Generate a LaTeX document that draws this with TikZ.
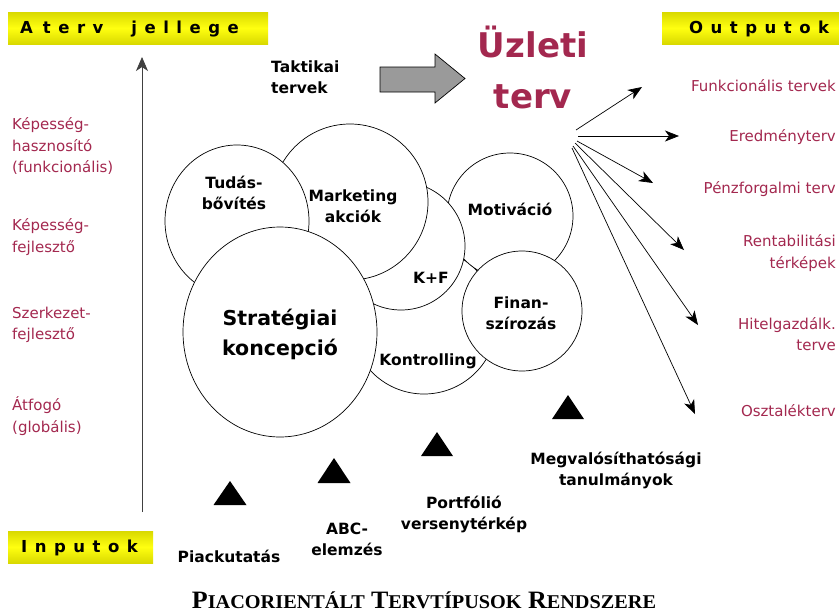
\documentclass[tikz,border=0pt]{standalone}
\usepackage{fontspec}
\usepackage{graphicx}
\setmainfont{DejaVu Sans}
\newfontfamily\titlefont{Liberation Serif}
\usetikzlibrary{arrows.meta,shapes.geometric}

\definecolor{plum}{HTML}{A3284F}
\definecolor{bannerlo}{HTML}{D9D900}
\definecolor{bannerhi}{HTML}{FFFF10}
\definecolor{blockgray}{HTML}{9A9A9A}
\definecolor{axisgray}{HTML}{404040}

% letter-spaced banner words
\newcommand\lsp{\hspace{7.5pt}}
\newcommand\wsp{\hspace{28pt}}
% hand-made small capitals for the caption
\newcommand\capword[2]{{\fontsize{25}{25}\selectfont #1}{\fontsize{19.5}{19.5}\selectfont #2}}

\tikzset{
  banner/.style={rectangle, inner sep=0pt, draw=none,
    top color=bannerlo, bottom color=bannerlo, middle color=bannerhi},
  bannertext/.style={font=\bfseries\fontsize{16.5}{16.5}\selectfont, inner sep=0pt},
  bubble/.style={circle, draw=black, line width=0.7pt, fill=white, inner sep=0pt},
  oval/.style={ellipse, draw=black, line width=0.7pt, fill=white, inner sep=0pt},
  bubbletext/.style={font=\bfseries\fontsize{15.5}{21}\selectfont, align=center, inner sep=0pt},
  bigtext/.style={font=\bfseries\fontsize{20.5}{30}\selectfont, align=center, inner sep=0pt},
  plumtext/.style={text=plum, font=\fontsize{15}{21.5}\selectfont, inner sep=0pt},
  fan/.style={-{Stealth[length=14pt,width=11pt,inset=4pt]}, line width=0.7pt},
  axis/.style={draw=axisgray, -{Stealth[length=14pt,width=12pt,inset=4pt]}, line width=0.8pt},
  marker/.style={fill=black},
}

\begin{document}
\begin{tikzpicture}[x=1pt,y=-1pt]
\useasboundingbox (0,0) rectangle (839,614);

% ---- banners ----
\node[banner, minimum width=260pt, minimum height=32pt] (jelleg) at (138,28) {};
\node[bannertext, anchor=west] (jellegtxt) at (20,29)
  {A\hspace{10pt}t\lsp e\lsp r\lsp v\wsp j\lsp e\lsp l\lsp l\lsp e\lsp g\lsp e};
\node[banner, minimum width=180pt, minimum height=32pt] (out) at (752,28) {};
\node[bannertext, anchor=west] (outtxt) at (689,29)
  {O\lsp u\lsp t\lsp p\lsp u\lsp t\lsp o\lsp k};
\node[banner, minimum width=145pt, minimum height=32pt] (inp) at (80.5,547) {};
\node[bannertext, anchor=west] (inptxt) at (21,548)
  {I\lsp n\lsp p\lsp u\lsp t\lsp o\lsp k};

% ---- vertical axis ----
\coordinate (axbot) at (142,512);
\coordinate (axtop) at (142,57);
\draw[axis] (axbot) -- (axtop);

% ---- plan levels ----
\node[plumtext, anchor=west, align=left] (lev1) at (12,146) {Képesség-\\hasznosító\\(funkcionális)};
\node[plumtext, anchor=west, align=left] (lev2) at (12,237) {Képesség-\\fejlesztő};
\node[plumtext, anchor=west, align=left] (lev3) at (12,325) {Szerkezet-\\fejlesztő};
\node[plumtext, anchor=west, align=left] (lev4) at (12,416) {Átfogó\\(globális)};

% ---- tactical plans and block arrow ----
\node[bubbletext, anchor=west, align=left] (takt) at (271,77) {Taktikai\\tervek};
\draw[line width=0.7pt, fill=blockgray]
  (380,67) -- (435,67) -- (435,54) -- (465,78.5) -- (435,103) -- (435,92) -- (380,92) -- cycle;

\node[text=plum, font=\bfseries\fontsize{34}{51}\selectfont, align=center, inner sep=0pt]
  (uzleti) at (533,67) {Üzleti\\terv};

% ---- overlapping bubbles (back to front) ----
\node[bubble, minimum size=146pt] (kontr) at (424,321) {};
\node[bubble, minimum size=126pt] (motiv) at (510,216) {};
\node[bubble, minimum size=128pt] (kf) at (401,246) {};
\node[bubble, minimum size=156pt] (mark) at (350,202) {};
\node[oval, minimum width=144pt, minimum height=152pt] (tudas) at (237,221) {};
\node[bubble, minimum size=120pt] (finan) at (522,311) {};
\node[oval, minimum width=194pt, minimum height=210pt] (strat) at (280,332) {};

\node[bubbletext] (tudastxt) at (234,193) {Tudás-\\bővítés};
\node[bubbletext] (marktxt) at (353,206) {Marketing\\akciók};
\node[bubbletext] (kftxt) at (431,278) {K+F};
\node[bubbletext] (motivtxt) at (510,209) {Motiváció};
\node[bubbletext] (finantxt) at (521,313) {Finan-\\szírozás};
\node[bubbletext] (kontrtxt) at (428,361) {Kontrolling};
\node[bigtext] (strattxt) at (280,334) {Stratégiai\\koncepció};

% ---- inputs ----
\fill[marker] (230,481) -- (246.5,505) -- (213.5,505) -- cycle;
\fill[marker] (334,458) -- (350.5,483) -- (317.5,483) -- cycle;
\fill[marker] (437,432) -- (453,456) -- (421,456) -- cycle;
\fill[marker] (568,395) -- (584,419) -- (552,419) -- cycle;

\node[bubbletext] (piac) at (229,556) {Piackutatás};
\node[bubbletext] (abc) at (347,539) {ABC-\\elemzés};
\node[bubbletext] (portf) at (464,514) {Portfólió\\versenytérkép};
\node[bubbletext] (megval) at (616,470) {Megvalósíthatósági\\tanulmányok};

% ---- outputs ----
\node[plumtext, anchor=east, align=right] (o1) at (836,86) {Funkcionális tervek};
\node[plumtext, anchor=east, align=right] (o2) at (836,137) {Eredményterv};
\node[plumtext, anchor=east, align=right] (o3) at (836,189) {Pénzforgalmi terv};
\node[plumtext, anchor=east, align=right] (o4) at (836,253) {Rentabilitási\\térképek};
\node[plumtext, anchor=east, align=right] (o5) at (836,334) {Hitelgazdálk.\\terve};
\node[plumtext, anchor=east, align=right] (o6) at (836,411) {Osztalékterv};

\coordinate (s1) at (576,130); \coordinate (e1) at (642,87);
\coordinate (s2) at (578,136); \coordinate (e2) at (679,136);
\coordinate (s3) at (577,141); \coordinate (e3) at (653,183);
\coordinate (s4) at (575,143); \coordinate (e4) at (684,250);
\coordinate (s5) at (573,146); \coordinate (e5) at (698,325);
\coordinate (s6) at (572,148); \coordinate (e6) at (695,414);
\foreach \i in {1,...,6} \draw[fan] (s\i) -- (e\i);

% ---- caption ----
\node[inner sep=0pt] (caption) at (424,600)
  {\titlefont\bfseries\scalebox{1.04}[1]{\capword{P}{IACORIENTÁLT}\hspace{6pt}\capword{T}{ERVTÍPUSOK}\hspace{6pt}\capword{R}{ENDSZERE}}};
\end{tikzpicture}
\end{document}
